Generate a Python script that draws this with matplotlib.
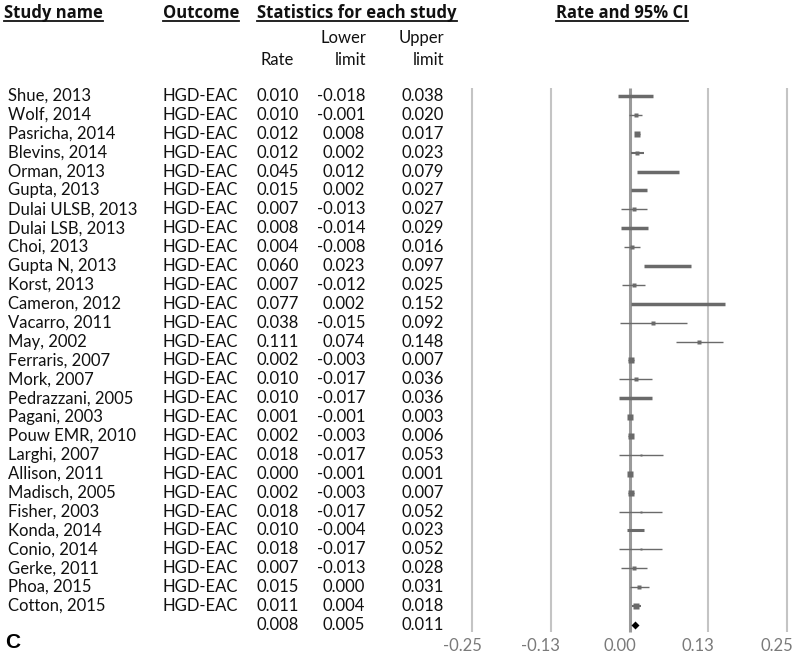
import matplotlib
matplotlib.use("Agg")
import matplotlib.pyplot as plt
import matplotlib.transforms as mtransforms
from matplotlib.lines import Line2D

# ---------------- data ----------------
studies = ["Shue, 2013", "Wolf, 2014", "Pasricha, 2014", "Blevins, 2014", "Orman, 2013",
           "Gupta, 2013", "Dulai ULSB, 2013", "Dulai LSB, 2013", "Choi, 2013", "Gupta N, 2013",
           "Korst, 2013", "Cameron, 2012", "Vacarro, 2011", "May, 2002", "Ferraris, 2007",
           "Mork, 2007", "Pedrazzani, 2005", "Pagani, 2003", "Pouw EMR, 2010", "Larghi, 2007",
           "Allison, 2011", "Madisch, 2005", "Fisher, 2003", "Konda, 2014", "Conio, 2014",
           "Gerke, 2011", "Phoa, 2015", "Cotton, 2015"]
outcomes = ["HGD-EAC"] * len(studies)
rate = [0.010, 0.010, 0.012, 0.012, 0.045, 0.015, 0.007, 0.008, 0.004, 0.060,
        0.007, 0.077, 0.038, 0.111, 0.002, 0.010, 0.010, 0.001, 0.002, 0.018,
        0.000, 0.002, 0.018, 0.010, 0.018, 0.007, 0.015, 0.011]
lower = [-0.018, -0.001, 0.008, 0.002, 0.012, 0.002, -0.013, -0.014, -0.008, 0.023,
         -0.012, 0.002, -0.015, 0.074, -0.003, -0.017, -0.017, -0.001, -0.003, -0.017,
         -0.001, -0.003, -0.017, -0.004, -0.017, -0.013, 0.000, 0.004]
upper = [0.038, 0.020, 0.017, 0.023, 0.079, 0.027, 0.027, 0.029, 0.016, 0.097,
         0.025, 0.152, 0.092, 0.148, 0.007, 0.036, 0.036, 0.003, 0.006, 0.053,
         0.001, 0.007, 0.052, 0.023, 0.052, 0.028, 0.031, 0.018]
summary_rate, summary_lower, summary_upper = 0.008, 0.005, 0.011
tick_vals = [-0.25, -0.125, 0.0, 0.125, 0.25]
tick_labels = ["-0.25", "-0.13", "0.00", "0.13", "0.25"]

# ---------------- styles ----------------
line_w = [2.5, 1, 1, 1.5, 2.5, 2.5, 1, 2.5, 1, 2.5,
          1, 2.5, 1, 1, 1, 1, 2.5, 1, 1, 1,
          1, 1, 1, 2.2, 1, 1, 1, 1.5]
marker_s = [2, 3, 5, 3.5, 2, 2, 2.5, 2, 2.5, 2,
            2.5, 2, 2.5, 2.5, 5, 2.5, 2, 5, 5, 2,
            5, 5, 2, 2, 2, 3.5, 2.5, 4.5]

plt.rcParams['font.family'] = ['Lato', 'DejaVu Sans']
FS = 12
TXT = '#111111'
BOLD_FAMILY = ['Open Sans', 'DejaVu Sans']
BFS = 12

W, H = 800, 656
fig = plt.figure(figsize=(W / 100, H / 100), dpi=100)

row_top_px = 96.0
row_step = 510.0 / 27
ax_bottom_px = 632.0
x0_px, x1_px = 472.0, 787.0

ax = fig.add_axes([x0_px / W, 1 - ax_bottom_px / H, (x1_px - x0_px) / W, ax_bottom_px / H])
ax.set_xlim(tick_vals[0], tick_vals[-1])
ax.set_ylim((ax_bottom_px - row_top_px) / row_step, -row_top_px / row_step)
for sp in ax.spines.values():
    sp.set_visible(False)
ax.set_yticks([])
ax.set_xticks(tick_vals, tick_labels)
ax.tick_params(axis='x', length=0, pad=4, labelsize=FS, labelcolor='#7a7a7a')
shift = mtransforms.ScaledTranslation(-10 / 100, 0, fig.dpi_scale_trans)
for lab in ax.get_xticklabels():
    lab.set_transform(lab.get_transform() + shift)

n = len(studies)
rows = list(range(n))
line_top = (88 - row_top_px) / row_step
line_bot = (ax_bottom_px - row_top_px) / row_step
for v in tick_vals:
    is_zero = (v == 0)
    ax.vlines(v, line_top, line_bot, colors='#9a9a9a' if is_zero else '#c4c4c4',
              lw=2.2 if is_zero else 1.5, clip_on=False, zorder=1)

for i in rows:
    ax.hlines(i, lower[i], upper[i], colors='#6a6a6a', lw=line_w[i], zorder=2)
    ax.plot(rate[i], i, marker='s', ms=marker_s[i], color='#6a6a6a', mec='none', zorder=3)
ax.plot(summary_rate, n, marker='D', ms=4.5, color='black', mec='none', zorder=3)

# ---------------- text columns ----------------
tr = mtransforms.blended_transform_factory(fig.transFigure, ax.transData)
def px(x):
    return x / W

for i in rows:
    ax.text(px(8), i, studies[i], transform=tr, ha='left', va='center', fontsize=FS, color=TXT)
    ax.text(px(163), i, outcomes[i], transform=tr, ha='left', va='center', fontsize=FS, color=TXT)
    ax.text(px(299), i, f"{rate[i]:.3f}", transform=tr, ha='right', va='center', fontsize=FS, color=TXT)
    ax.text(px(365), i, f"{lower[i]:.3f}", transform=tr, ha='right', va='center', fontsize=FS, color=TXT)
    ax.text(px(444), i, f"{upper[i]:.3f}", transform=tr, ha='right', va='center', fontsize=FS, color=TXT)
ax.text(px(299), n, f"{summary_rate:.3f}", transform=tr, ha='right', va='center', fontsize=FS, color=TXT)
ax.text(px(365), n, f"{summary_lower:.3f}", transform=tr, ha='right', va='center', fontsize=FS, color=TXT)
ax.text(px(444), n, f"{summary_upper:.3f}", transform=tr, ha='right', va='center', fontsize=FS, color=TXT)

def fy(y):
    return 1 - y / H

# column headers
fig.text(px(294), fy(60), "Rate", ha='right', va='center', fontsize=FS, color=TXT)
fig.text(px(366), fy(38), "Lower", ha='right', va='center', fontsize=FS, color=TXT)
fig.text(px(366), fy(60), "limit", ha='right', va='center', fontsize=FS, color=TXT)
fig.text(px(444), fy(38), "Upper", ha='right', va='center', fontsize=FS, color=TXT)
fig.text(px(444), fy(60), "limit", ha='right', va='center', fontsize=FS, color=TXT)

titles = []
bold_kw = dict(va='baseline', fontsize=BFS, fontweight='bold', family=BOLD_FAMILY, color=TXT)
titles.append(fig.text(px(4), fy(18), "Study name", ha='left', **bold_kw))
titles.append(fig.text(px(163), fy(18), "Outcome", ha='left', **bold_kw))
titles.append(fig.text(px(257), fy(18), "Statistics for each study", ha='left', **bold_kw))
titles.append(fig.text(px(622), fy(18), "Rate and 95% CI", ha='center', **bold_kw))

fig.text(px(5), fy(643), "C", ha='left', va='center', fontsize=15, fontweight='bold',
         family=['Liberation Sans', 'DejaVu Sans'], color='black')

fig.canvas.draw()
renderer = fig.canvas.get_renderer()
yline = fy(20.5)
for t in titles:
    bb = t.get_window_extent(renderer)
    fig.add_artist(Line2D([bb.x0 / W, bb.x1 / W], [yline, yline], transform=fig.transFigure,
                          color=TXT, lw=1.3))

fig.savefig("out.png", dpi=100)
